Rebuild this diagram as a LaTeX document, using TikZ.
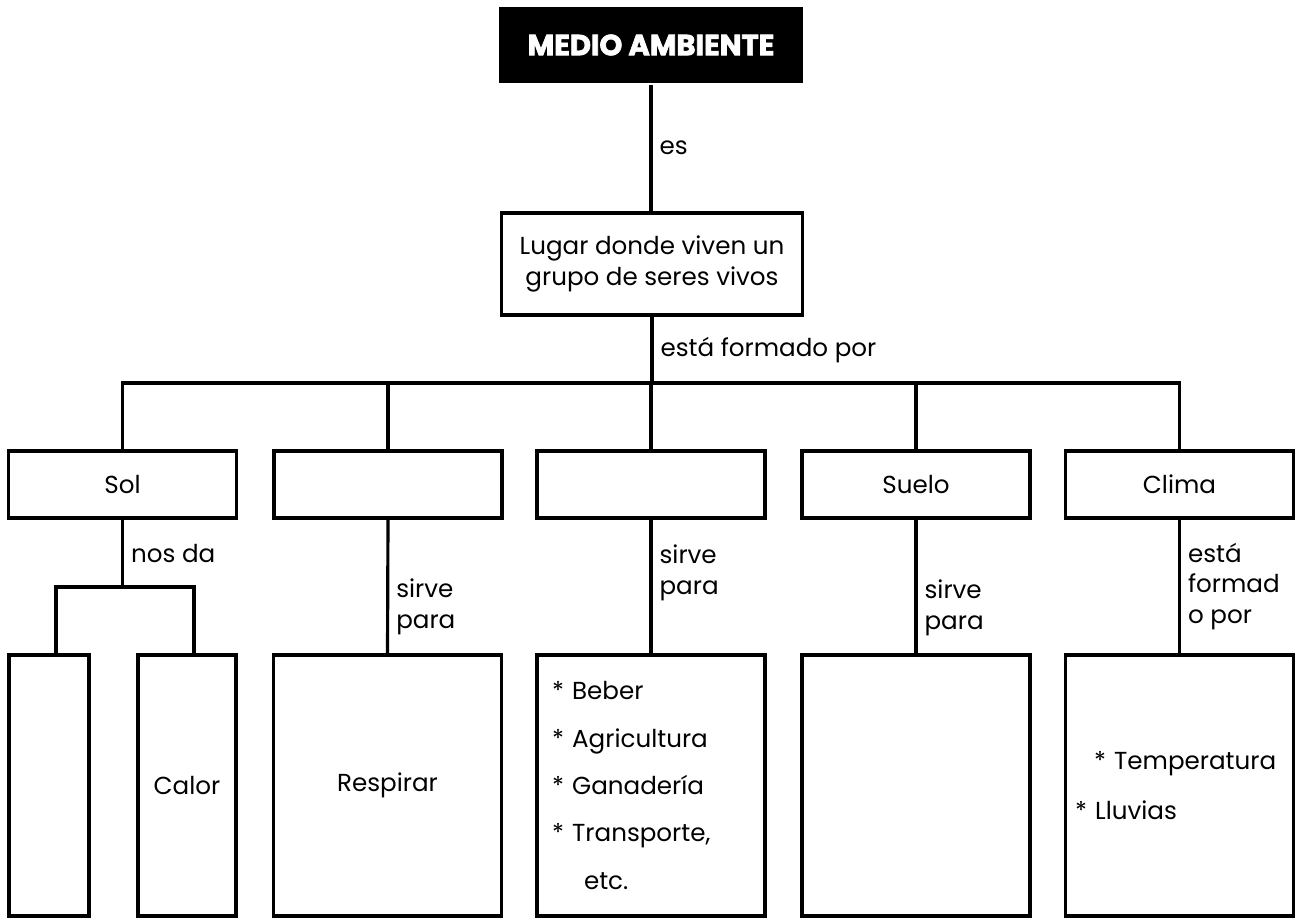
\documentclass[tikz,border=0pt]{standalone}
\usepackage{fontspec}
\setmainfont{Poppins}
\newfontfamily\titulo{Poppins}[BoldFeatures={FakeBold=2.5}]
\usetikzlibrary{calc}

\begin{document}
\begin{tikzpicture}[x=0.02cm, y=-0.02cm, line width=1.8pt,
  font=\fontsize{14}{17.5}\selectfont,
  caja/.style={draw, rectangle, inner sep=0pt, minimum height=1.34cm, minimum width=4.56cm},
  alta/.style={draw, rectangle, inner sep=0pt, minimum height=5.22cm, minimum width=#1},
  alta/.default=4.56cm,
  enlace/.style={right, align=left, inner sep=4pt}]
\useasboundingbox (0,0) rectangle (1295,918);

\node[fill=black, text=white, minimum width=6.08cm, minimum height=1.52cm, font=\titulo\fontsize{16.5}{20}\selectfont\bfseries] (medio) at (651,45) {MEDIO AMBIENTE};
\node[draw, align=center, minimum width=6.02cm, minimum height=2.04cm] (lugar) at (652,264) {Lugar donde viven un\\grupo de seres vivos};

% fila de componentes
\node[caja] (sol) at (122.5,484.5) {Sol};
\node[caja] (aire) at (388,484.5) {};
\node[caja] (agua) at (651,484.5) {};
\node[caja] (suelo) at (916,484.5) {Suelo};
\node[caja] (clima) at (1179.5,484.5) {Clima};

% cajas de abajo
\node[alta=1.6cm] (luz) at (49,785.5) {};
\node[alta=1.96cm] (calor) at (187,785.5) {Calor};
\node[alta] (respirar) at (387.5,785.5) {Respirar};
\node[alta, text width=3.96cm, align=left, inner xsep=0.3cm, font=\fontsize{14}{27}\selectfont] (usos) at (651,785.5) {{*} Beber\\{*} Agricultura\\{*} Ganadería\\{*} Transporte,\\\hspace*{0.64cm}etc.};
\node[alta] (vacio) at (916,785.5) {};
\node[alta, text width=4.18cm, align=left, inner xsep=0.14cm, font=\fontsize{14}{28.5}\selectfont] (componentes) at (1179.5,785.5) {\hspace*{0.38cm}{*} Temperatura\\{*} Lluvias};

\draw (medio.south) -- (medio.south |- lugar.north) node[enlace, midway] {es};

\coordinate (bus) at (651,383);
\draw (lugar.south) -- (lugar.south |- bus) node[enlace, midway] {está formado por};
\draw (sol.north) -- (sol.north |- bus) -- (clima.north |- bus) -- (clima.north);
\foreach \n in {aire, agua, suelo} \draw (\n.north) -- (\n.north |- bus);

\coordinate (reparto) at (123,587);
\draw (sol.south) -- (sol.south |- reparto) node[enlace, midway] {nos da};
\draw ([xshift=0.14cm]luz.north) |- (reparto) -| ([xshift=0.14cm]calor.north);

\draw (aire.south) -- (respirar.north) node[enlace, pos=.65] {sirve\\para};
\draw (agua.south) -- (usos.north) node[enlace, pos=.4] {sirve\\para};
\draw (suelo.south) -- (vacio.north) node[enlace, pos=.66] {sirve\\para};
\draw (clima.south) -- (componentes.north) node[enlace, pos=.5] {está\\formad\\o por};

\end{tikzpicture}
\end{document}
